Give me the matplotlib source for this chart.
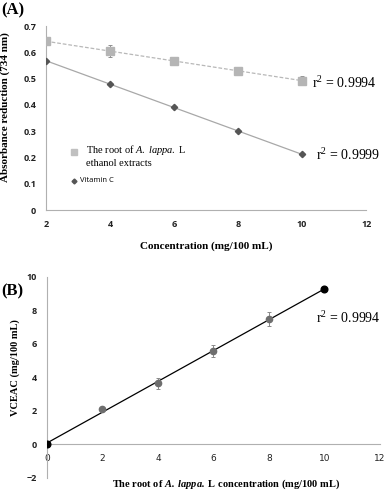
import numpy as np
import matplotlib
matplotlib.use("Agg")
import matplotlib.pyplot as plt

plt.rcParams['mathtext.fontset'] = 'custom'
plt.rcParams['mathtext.rm'] = 'Liberation Serif'
plt.rcParams['mathtext.it'] = 'Liberation Serif:italic'
plt.rcParams['mathtext.bf'] = 'Liberation Serif:bold'
plt.rcParams['mathtext.bfit'] = 'Liberation Serif:bold:italic'

# panel A data
conc_a = [2, 4, 6, 8, 10]
root_abs = [0.642, 0.606, 0.566, 0.531, 0.492]
root_err = [0.006, 0.022, 0.006, 0.011, 0.017]
vitc_abs = [0.568, 0.479, 0.391, 0.300, 0.212]
r2_root = "0.9994"
r2_vitc = "0.9999"

# panel B data
conc_b = [0, 2, 4, 6, 8, 10]
vceac = [0.0, 2.08, 3.64, 5.55, 7.46, 9.27]
vceac_err = [0.0, 0.08, 0.33, 0.35, 0.40, 0.0]
r2_b = "0.9994"

serif = 'Liberation Serif'
sans = 'Open Sans'
spine_col = '#b0b0b0'

fig = plt.figure(figsize=(3.87, 4.93), dpi=100)

# ---------- (A) ----------
ax = fig.add_axes([0.119, 0.574, 0.827, 0.373])
ax.set_xlim(2, 12)
ax.set_ylim(0, 0.7)

xa = np.array(conc_a, dtype=float)
k1 = np.polyfit(xa, root_abs, 1)
k2 = np.polyfit(xa, vitc_abs, 1)
ax.plot(xa, np.polyval(k1, xa), ls=(0, (3, 1.5)), color='#b8b8b8', lw=0.9, zorder=2)
ax.plot(xa, np.polyval(k2, xa), ls='-', color='#a8a8a8', lw=0.9, zorder=2)
ax.errorbar(conc_a, root_abs, yerr=root_err, fmt='s', color='#b5b5b5', ms=5.5,
            ecolor='#909090', elinewidth=0.7, capsize=1.5, capthick=0.7, zorder=3)
ax.plot(conc_a, vitc_abs, 'D', color='#555555', ms=3.2, zorder=3)

ax.set_xticks([2, 4, 6, 8, 10, 12])
ax.set_yticks(np.arange(0, 0.71, 0.1))
ax.set_yticklabels(['0'] + ['%.1f' % v for v in np.arange(0.1, 0.71, 0.1)])
ax.tick_params(length=0, labelsize=6.5, pad=7, labelcolor='#222222')
for t in ax.get_xticklabels() + ax.get_yticklabels():
    t.set_fontfamily(sans)
    t.set_fontweight('bold')
for s in ['top', 'right']:
    ax.spines[s].set_visible(False)
for s in ['left', 'bottom']:
    ax.spines[s].set_color(spine_col)
    ax.spines[s].set_linewidth(0.8)

ax.set_ylabel('Absorbance reduction (734 nm)', fontfamily=serif, fontweight='bold',
              fontsize=8)
ax.yaxis.set_label_coords(-0.112, 0.56)
ax.set_xlabel('Concentration (mg/100 mL)', fontfamily=serif, fontweight='bold',
              fontsize=8, labelpad=9)

ax.text(10.31, 0.483, r'r$^2$ = ' + r2_root, fontfamily=serif, fontsize=10, va='center')
ax.text(10.44, 0.209, r'r$^2$ = ' + r2_vitc, fontfamily=serif, fontsize=10, va='center')

# legend drawn by hand so the square sits on the first text line
ax.plot([0.0875], [0.315], 's', color='#c0c0c0', ms=4, transform=ax.transAxes, clip_on=False)
ax.text(0.125, 0.326, 'The root of $\\it{A.\\ lappa.}$ L', fontfamily=serif, fontsize=7.5,
        va='center', transform=ax.transAxes)
ax.text(0.125, 0.255, 'ethanol extracts', fontfamily=serif, fontsize=7.5,
        va='center', transform=ax.transAxes)
ax.plot([0.0875], [0.158], 'D', color='#555555', ms=2.5, transform=ax.transAxes, clip_on=False)
ax.text(0.106, 0.158, 'Vitamin C', fontfamily=sans, fontsize=5.5, va='center',
        transform=ax.transAxes)

fig.text(0.003, 0.978, '(A)', fontfamily=serif, fontweight='bold', fontsize=12, va='center')

# ---------- (B) ----------
bx = fig.add_axes([0.121, 0.031, 0.861, 0.408])
bx.set_xlim(0, 12)
bx.set_ylim(-2, 10)

xb = np.array(conc_b, dtype=float)
k3 = np.polyfit(xb, vceac, 1)
bx.plot([0, 10], np.polyval(k3, [0, 10]), color='black', lw=0.9, zorder=2)
bx.errorbar(conc_b[1:5], vceac[1:5], yerr=vceac_err[1:5], fmt='o', color='#6e6e6e', ms=4.5,
            ecolor='#8a8a8a', elinewidth=0.7, capsize=1.5, capthick=0.7, zorder=3)
bx.plot([conc_b[0], conc_b[-1]], [vceac[0], vceac[-1]], 'o', color='black', ms=4.8, zorder=4)

bx.set_xticks([0, 2, 4, 6, 8, 10, 12])
bx.set_yticks([-2, 0, 2, 4, 6, 8, 10])
bx.tick_params(length=0, labelsize=6.5, pad=7, labelcolor='#222222')
for t in bx.get_xticklabels() + bx.get_yticklabels():
    t.set_fontfamily(sans)
    t.set_fontweight('bold')
for s in ['top', 'right']:
    bx.spines[s].set_visible(False)
bx.spines['bottom'].set_position(('data', 0))
for s in ['left', 'bottom']:
    bx.spines[s].set_color(spine_col)
    bx.spines[s].set_linewidth(0.8)

bx.set_ylabel('VCEAC (mg/100 mL)', fontfamily=serif, fontweight='bold', fontsize=7.5)
bx.yaxis.set_label_coords(-0.08, 0.55)
fig.text(0.585, 0.004, 'The root of $\\mathbfit{A.\\ lappa.}$ L concentration (mg/100 mL)',
         fontfamily=serif, fontweight='bold', fontsize=7.5, ha='center', va='bottom')
bx.text(9.69, 7.55, r'r$^2$ = ' + r2_b, fontfamily=serif, fontsize=10, va='center')
fig.text(0.003, 0.408, '(B)', fontfamily=serif, fontweight='bold', fontsize=12, va='center')

fig.savefig('out.png', dpi=100)
